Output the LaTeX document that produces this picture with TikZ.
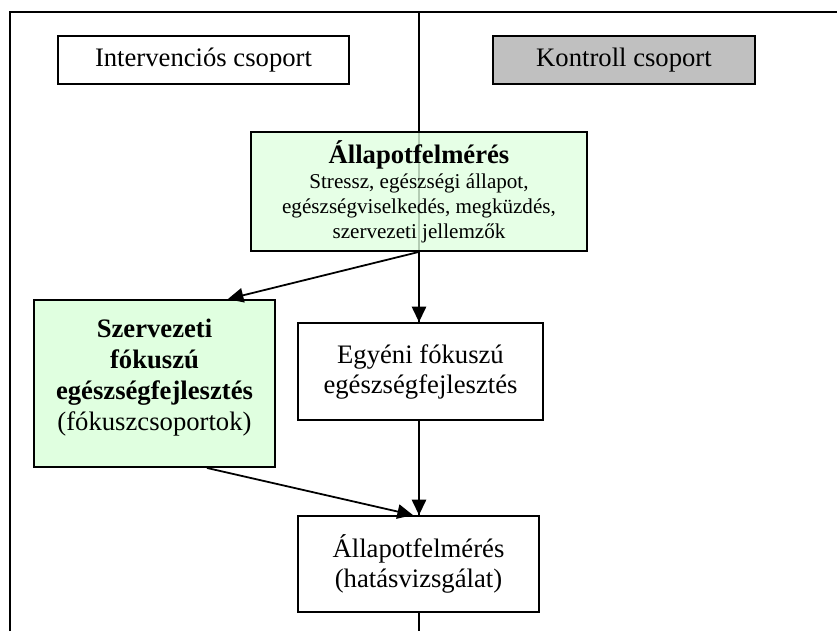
\documentclass[tikz,border=0pt]{standalone}
\usepackage{fontspec}
\setmainfont{Liberation Serif}
\usetikzlibrary{arrows.meta}

\definecolor{halvanyzold}{RGB}{224,255,224}
\definecolor{szurke}{RGB}{192,192,192}

\begin{document}
\begin{tikzpicture}[x=0.45pt, y=-0.45pt,
                    doboz/.style={draw, line width=0.85pt, fill=white, inner sep=0pt, align=center,
                                  font=\fontsize{12}{13.5}\selectfont},
                    zold/.style={doboz, fill=halvanyzold},
                    nyil/.style={line width=0.8pt, -{Triangle[length=7pt, width=6.5pt]}}]

                    \useasboundingbox (0,0) rectangle (837,631);

                    % keret es valaszto vonal
                    \coordinate (KeretAlso) at (10,631);
                    \coordinate (KeretBal) at (10,12);
                    \coordinate (KeretJobb) at (837,12);
                    \coordinate (VonalFent) at (419,12);
                    \coordinate (VonalLent) at (419,631);
                    \draw[line width=0.6pt] (KeretAlso) -- (KeretBal) -- (KeretJobb);
                    \draw[line width=0.7pt] (VonalFent) -- (VonalLent);

                    \node (Interv) [doboz, minimum width=131pt, minimum height=21.6pt]
                        at (203.5,60) {Intervenciós csoport};
                    \node (Kontroll) [doboz, fill=szurke, minimum width=117.9pt, minimum height=21.6pt]
                        at (624,60) {Kontroll csoport};

                    \node (Felmeres) [zold, fill opacity=0.8, text opacity=1,
                                      minimum width=151.2pt, minimum height=53.5pt,
                                      font=\fontsize{9.5}{11.25}\selectfont]
                        at (419,191.5)
                        {{\fontsize{12}{12}\selectfont\bfseries Állapotfelmérés}\\
                         Stressz, egészségi állapot,\\
                         egészségviselkedés, megküzdés,\\
                         szervezeti jellemzők};

                    \node (Szerv) [zold] at (154.5,383.5)
                        {\parbox[c][75.15pt][t]{108.45pt}{\centering\vspace*{8.5pt}
                         \fontsize{12}{13.9}\selectfont
                         \textbf{Szervezeti}\\
                         \textbf{fókuszú}\\
                         \textbf{egészségfejlesztés}\\
                         (fókuszcsoportok)}};

                    \node (Egyeni) [doboz, minimum width=110.25pt, minimum height=43.65pt]
                        at (420.5,371.5) {Egyéni fókuszú\\egészségfejlesztés};

                    \node (Hatas) [doboz, minimum width=108.45pt, minimum height=43.2pt]
                        at (418.5,564) {Állapotfelmérés\\(hatásvizsgálat)};

                    % nyilak
                    \draw[nyil] (Felmeres.south) -- ([xshift=33pt]Szerv.north);
                    \draw[nyil] (Felmeres.south) -- (Felmeres.south |- Egyeni.north);
                    \draw[nyil] (Egyeni.south -| Felmeres.south) -- (Felmeres.south |- Hatas.north);
                    \draw[nyil] ([xshift=23.6pt]Szerv.south) -- ([xshift=-2.5pt]Hatas.north);
                \end{tikzpicture}
\end{document}
